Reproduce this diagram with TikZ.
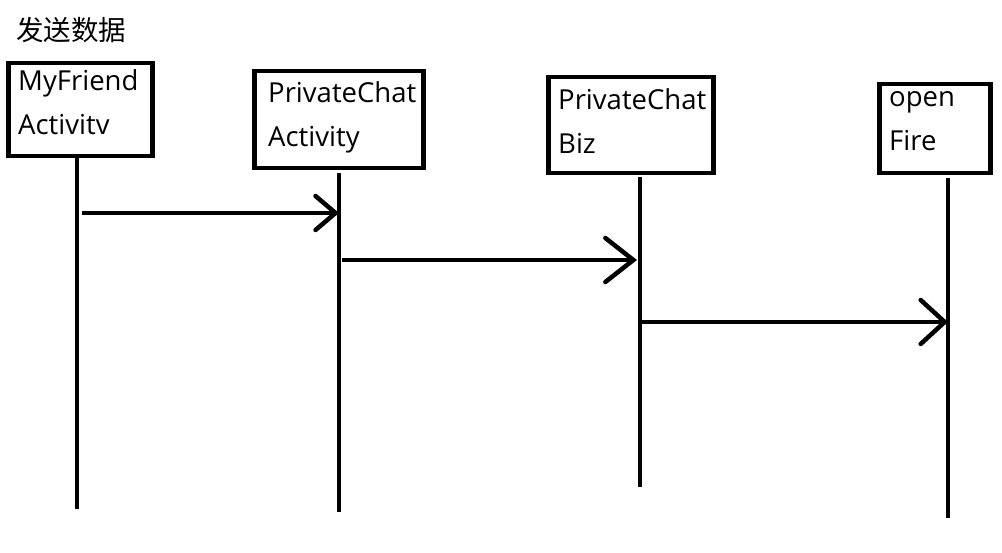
\documentclass[tikz,border=0pt]{standalone}
\usepackage{fontspec}
\setmainfont{Open Sans}
\newfontfamily\cjk{Noto Sans CJK SC}
\usetikzlibrary{arrows.meta}
\newcommand\lnpair[2]{\vtop{\baselineskip=44pt\hbox{#1}\hbox{#2}}}
\begin{document}
\begin{tikzpicture}[x=1pt,y=-1pt,
  box/.style={draw, line width=4.5pt, rectangle, inner sep=0pt, anchor=north west},
  lbl/.style={anchor=base west, inner sep=0pt, font=\fontsize{27.5}{44}\selectfont},
  life/.style={line width=4.5pt},
  msg/.style 2 args={line width=4.5pt, -{Straight Barb[length=#1, width=#2, line width=4.5pt, line cap=round]}}
]
\useasboundingbox[fill=white] (0,0) rectangle (1002,553);

% title
\node[lbl, font=\cjk\fontsize{27.5}{30}\selectfont] (title) at (16,41) {发送数据};

% boxes
\node[box, minimum width=144pt, minimum height=93pt] (b1) at (6,61) {};
\node[box, minimum width=169pt, minimum height=97pt] (b2) at (252,69) {};
\node[box, minimum width=165pt, minimum height=96pt] (b3) at (546,75) {};
\node[box, minimum width=111pt, minimum height=89pt] (b4) at (877,82) {};

% labels
\node[lbl] (t1) at (18,91) {\lnpair{MyFriend}{Activitv}};
\node[lbl] (t2) at (268,103) {\lnpair{PrivateChat}{Activity}};
\node[lbl] (t3) at (558,110) {\lnpair{PrivateChat}{Biz}};
\node[lbl] (t4) at (889,107) {\lnpair{open}{Fire}};

% lifelines
\coordinate (l1a) at (77,157);  \coordinate (l1b) at (77,509);
\coordinate (l2a) at (339,173); \coordinate (l2b) at (339,512);
\coordinate (l3a) at (640,177); \coordinate (l3b) at (640,487);
\coordinate (l4a) at (948,178); \coordinate (l4b) at (948,518);
\draw[life] (l1a) -- (l1b);
\draw[life] (l2a) -- (l2b);
\draw[life] (l3a) -- (l3b);
\draw[life] (l4a) -- (l4b);

% messages
\coordinate (m1s) at (82,213);  \coordinate (m1e) at (339,213);
\coordinate (m2s) at (342,260); \coordinate (m2e) at (637,260);
\coordinate (m3s) at (642,322); \coordinate (m3e) at (948,322);
\draw[msg={20pt}{34pt}] (m1s) -- (m1e);
\draw[msg={28pt}{44pt}] (m2s) -- (m2e);
\draw[msg={24pt}{44pt}] (m3s) -- (m3e);
\end{tikzpicture}
\end{document}
